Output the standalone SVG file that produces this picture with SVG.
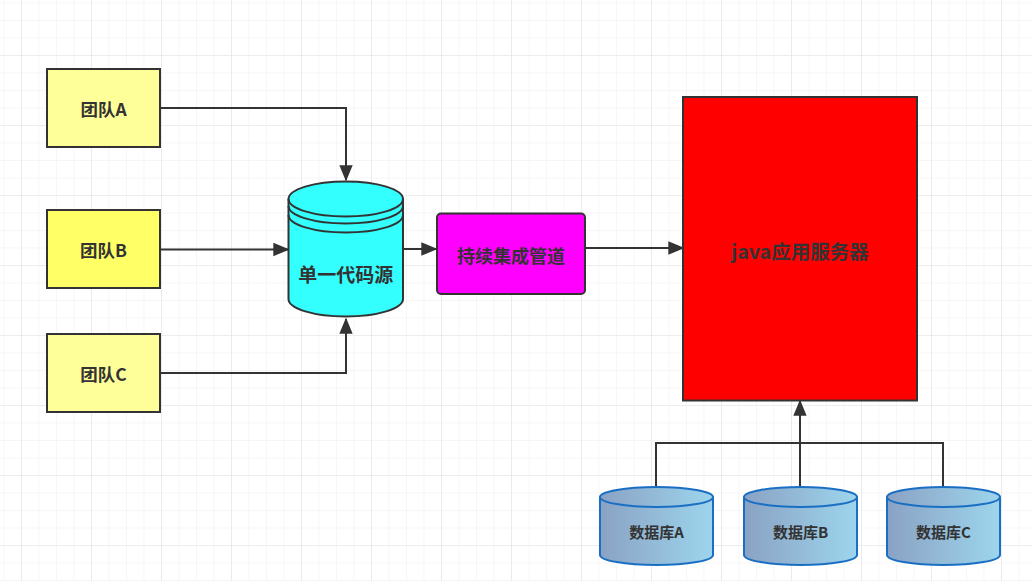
<svg xmlns="http://www.w3.org/2000/svg" width="1032" height="581" viewBox="0 0 1032 581">
<defs>
<pattern id="minor" x="3.5" y="2.5" width="17.5" height="17.5" patternUnits="userSpaceOnUse">
<path d="M0 0 H17.5 M0 0 V17.5" fill="none" stroke="#eeeeee" stroke-width="1"/>
</pattern>
<pattern id="major" x="21" y="55" width="70" height="70" patternUnits="userSpaceOnUse">
<path d="M0 0 H70 M0 0 V70" fill="none" stroke="#e4e4e4" stroke-width="1.2"/>
</pattern>
<linearGradient id="dbg" x1="0" y1="0" x2="1" y2="0">
<stop offset="0" stop-color="#8aa2c4"/>
<stop offset="1" stop-color="#9dd5ec"/>
</linearGradient>
<marker id="arrow" viewBox="0 0 12 12" refX="11" refY="6" markerWidth="16" markerHeight="16" markerUnits="userSpaceOnUse" orient="auto">
<path d="M0 1 L12 6 L0 11 Z" fill="#333"/>
</marker>
</defs>
<style>
.t{font-family:"Noto Sans CJK SC","Liberation Sans",sans-serif;font-weight:bold;fill:#333;text-anchor:middle;dominant-baseline:central}
.box{stroke:#333;stroke-width:2}
.ln{fill:none;stroke:#333;stroke-width:2}
.db{fill:url(#dbg);stroke:#1a6fc4;stroke-width:2}
</style>
<rect width="1032" height="581" fill="#ffffff"/>
<rect width="1032" height="581" fill="url(#minor)"/>
<rect width="1032" height="581" fill="url(#major)"/>

<g id="connectors">
<path class="ln" d="M160 108 H346 V180" marker-end="url(#arrow)"/>
<path class="ln" d="M160 249.5 H288" marker-end="url(#arrow)"/>
<path class="ln" d="M160 373 H346 V319" marker-end="url(#arrow)"/>
<path class="ln" d="M403 249 H436" marker-end="url(#arrow)"/>
<path class="ln" d="M585 248 H683" marker-end="url(#arrow)"/>
<path class="ln" d="M656 487 V443 H943 V487"/>
<path class="ln" d="M800 487 V401" marker-end="url(#arrow)"/>
</g>

<g id="teamA">
<rect class="box" x="47" y="69" width="113" height="78" fill="#ffff99"/>
<text class="t" x="103.5" y="108" font-size="17.5">团队A</text>
</g>
<g id="teamB">
<rect class="box" x="47" y="210" width="113" height="78" fill="#ffff66"/>
<text class="t" x="103.5" y="249" font-size="17.5">团队B</text>
</g>
<g id="teamC">
<rect class="box" x="47" y="334" width="113" height="78" fill="#ffff99"/>
<text class="t" x="103.5" y="373" font-size="17.5">团队C</text>
</g>

<g id="repo">
<path class="box" d="M288.5 199 A57.25 17.5 0 0 1 403 199 V299 A57.25 17.5 0 0 1 288.5 299 Z" fill="#33ffff"/>
<path class="ln" d="M288.5 199 A57.25 17.5 0 0 0 403 199"/>
<path class="ln" d="M288.5 206 A57.25 17.5 0 0 0 403 206"/>
<path class="ln" d="M288.5 215 A57.25 17.5 0 0 0 403 215"/>
<text class="t" x="345.75" y="273" font-size="19">单一代码源</text>
</g>

<g id="pipeline">
<rect class="box" x="437" y="213.5" width="148" height="80.5" rx="4" fill="#ff00ff"/>
<text class="t" x="511" y="255" font-size="18">持续集成管道</text>
</g>

<g id="server">
<rect class="box" x="683" y="97" width="234" height="303.5" fill="#ff0000"/>
<text class="t" x="800" y="250" font-size="19.5">java应用服务器</text>
</g>

<g id="dbA">
<path class="db" d="M600 497 A56.5 10 0 0 1 713 497 V555 A56.5 10 0 0 1 600 555 Z"/>
<path class="db" d="M600 497 A56.5 10 0 0 0 713 497" fill="none"/>
<text class="t" x="656.5" y="531.5" font-size="15">数据库A</text>
</g>
<g id="dbB">
<path class="db" d="M744 497 A56.5 10 0 0 1 857 497 V555 A56.5 10 0 0 1 744 555 Z"/>
<path class="db" d="M744 497 A56.5 10 0 0 0 857 497" fill="none"/>
<text class="t" x="800.5" y="531.5" font-size="15">数据库B</text>
</g>
<g id="dbC">
<path class="db" d="M887 497 A56.5 10 0 0 1 1000 497 V555 A56.5 10 0 0 1 887 555 Z"/>
<path class="db" d="M887 497 A56.5 10 0 0 0 1000 497" fill="none"/>
<text class="t" x="943.5" y="531.5" font-size="15">数据库C</text>
</g>
</svg>
